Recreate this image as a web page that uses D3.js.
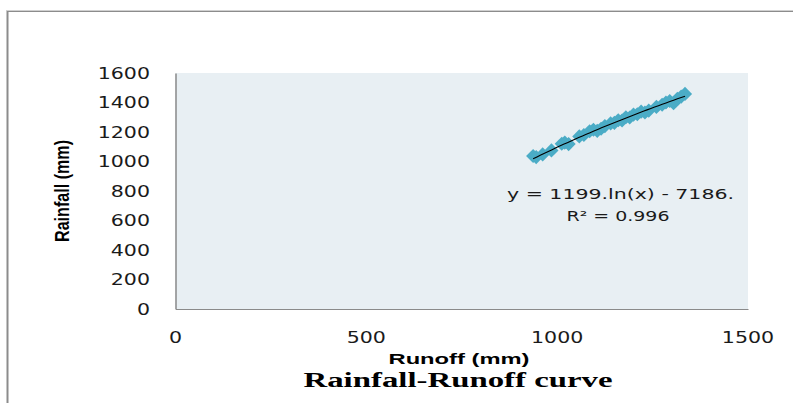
<!DOCTYPE html>
<html>
<head>
<meta charset="utf-8">
<script src="https://cdn.jsdelivr.net/npm/d3@7/dist/d3.min.js"></script>
<style>
  html, body { margin: 0; padding: 0; background: #ffffff; }
  svg { display: block; }
</style>
</head>
<body>
<svg id="chart" width="793" height="403"></svg>
<script>
// ---------------- data ----------------
const runoff   = [937, 945, 962, 985, 1012, 1020, 1030, 1058, 1070, 1085, 1095, 1105, 1115, 1125, 1140, 1150, 1160, 1170, 1180, 1190, 1200, 1210, 1220, 1230, 1240, 1260, 1275, 1285, 1295, 1305, 1315, 1325, 1335];
const rainfall = [1037, 1030, 1048, 1075, 1120, 1128, 1118, 1170, 1180, 1205, 1215, 1208, 1222, 1240, 1258, 1262, 1280, 1278, 1300, 1298, 1318, 1320, 1338, 1332, 1345, 1370, 1385, 1400, 1410, 1395, 1425, 1440, 1458];
const xTicks = [0, 500, 1000, 1500];
const yTicks = [0, 200, 400, 600, 800, 1000, 1200, 1400, 1600];
const trendA = 1199, trendB = -7186;
const equationLabel = "y = 1199.ln(x) - 7186.";
const r2Label = "R\u00B2 = 0.996";
const xTitle = "Runoff (mm)";
const yTitle = "Rainfall (mm)";
const chartTitle = "Rainfall-Runoff curve";

// ---------------- layout ----------------
const svg = d3.select("#chart");
const plot = { left: 175.5, right: 748, top: 73, bottom: 309 };
const x = d3.scaleLinear().domain([0, 1500]).range([plot.left, plot.right]);
const y = d3.scaleLinear().domain([0, 1600]).range([plot.bottom, plot.top]);

// outer chart border (top and left visible)
svg.append("line").attr("x1", 6).attr("x2", 793).attr("y1", 10.5).attr("y2", 10.5)
  .attr("stroke", "#d0d0d0").attr("stroke-width", 1);
svg.append("line").attr("x1", 7).attr("x2", 793).attr("y1", 11.5).attr("y2", 11.5)
  .attr("stroke", "#8c8c8c").attr("stroke-width", 1);
svg.append("line").attr("x1", 7.5).attr("x2", 7.5).attr("y1", 11).attr("y2", 403)
  .attr("stroke", "#8c8c8c").attr("stroke-width", 2);

// plot area background
svg.append("rect")
  .attr("x", plot.left).attr("y", plot.top)
  .attr("width", plot.right - plot.left).attr("height", plot.bottom - plot.top)
  .attr("fill", "#e8eff3");

// axes (lines only)
const xAxis = d3.axisBottom(x).tickValues(xTicks).tickSize(0).tickFormat("");
const yAxis = d3.axisLeft(y).tickValues(yTicks).tickSize(0).tickFormat("");
svg.append("g").attr("transform", `translate(0,${plot.bottom})`).call(xAxis)
  .select(".domain").attr("stroke", "#8a8a8a").attr("stroke-width", 1.2);
svg.append("g").attr("transform", `translate(${plot.left},0)`).call(yAxis)
  .select(".domain").attr("stroke", "#8a8a8a").attr("stroke-width", 1.5);

// text helper: horizontally stretched text
function stretchText(parent, str, opts) {
  const t = parent.append("text")
    .text(str)
    .attr("font-family", opts.family)
    .attr("font-size", opts.size)
    .attr("font-weight", opts.weight || "normal")
    .attr("fill", opts.fill || "#000")
    .attr("y", opts.y);
  const nat = t.node().getComputedTextLength();
  const w = opts.width != null ? opts.width : nat * (opts.k || 1);
  let x0 = opts.x;
  if (opts.anchor === "middle") x0 = opts.x - w / 2;
  else if (opts.anchor === "end") x0 = opts.x - w;
  t.attr("x", x0).attr("textLength", w).attr("lengthAdjust", "spacingAndGlyphs");
  return t;
}

const tickFont = "'DejaVu Sans', Verdana, sans-serif";
// x tick labels
xTicks.forEach(v => stretchText(svg, String(v), {
  x: x(v), y: 343, anchor: "middle", family: tickFont, size: 15, k: 1.37, fill: "#1a1a1a"
}));
// y tick labels
yTicks.forEach(v => stretchText(svg, String(v), {
  x: 150, y: y(v) + 5.5, anchor: "end", family: tickFont, size: 15, k: 1.37, fill: "#1a1a1a"
}));

// axis titles
stretchText(svg, xTitle, {
  x: 459, y: 364, anchor: "middle", family: "'Liberation Sans', Arial, sans-serif",
  size: 15, weight: "bold", width: 141
});
const yt = svg.append("g").attr("transform", "translate(69,191) scale(1.3,1) rotate(-90)");
stretchText(yt, yTitle, {
  x: 0, y: 0, anchor: "middle", family: "'Liberation Sans', Arial, sans-serif",
  size: 16, weight: "bold", width: 102
});

// chart title
stretchText(svg, chartTitle, {
  x: 458, y: 387, anchor: "middle", family: "'Liberation Serif', 'Times New Roman', serif",
  size: 20, weight: "bold", width: 309
});

// scatter points (diamonds)
const points = runoff.map((r, i) => ({ r, f: rainfall[i] }));
const diamond = d3.symbol().type(d3.symbolSquare).size(100);
svg.append("g").selectAll("path").data(points).join("path")
  .attr("d", diamond)
  .attr("transform", d => `translate(${x(d.r)},${y(d.f)}) rotate(45)`)
  .attr("fill", "#4bacc6");

// logarithmic trendline
const xmin = d3.min(runoff), xmax = d3.max(runoff);
const trendPts = d3.range(0, 41).map(i => {
  const xv = xmin + (xmax - xmin) * i / 40;
  return [xv, trendA * Math.log(xv) + trendB];
});
svg.append("path")
  .attr("d", d3.line().x(d => x(d[0])).y(d => y(d[1]))(trendPts))
  .attr("fill", "none").attr("stroke", "#000").attr("stroke-width", 1.1);

// equation labels
stretchText(svg, equationLabel, {
  x: 507, y: 199, anchor: "start", family: tickFont, size: 14, width: 227, fill: "#1a1a1a"
});
stretchText(svg, r2Label, {
  x: 618, y: 221, anchor: "middle", family: tickFont, size: 14, width: 103, fill: "#1a1a1a"
});
</script>
</body>
</html>
